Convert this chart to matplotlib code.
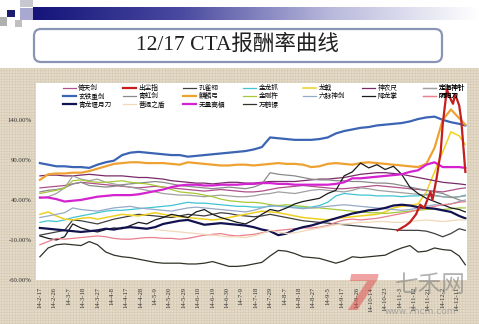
import numpy as np
import matplotlib.pyplot as plt
from matplotlib.patches import Rectangle, FancyBboxPatch
from matplotlib.colors import LinearSegmentedColormap

plt.rcParams['font.family'] = ['Noto Sans CJK SC', 'DejaVu Sans']
plt.rcParams['hatch.linewidth'] = 0.35
plt.rcParams['hatch.color'] = '#d3c7b1'

# trading-day index (0 = 14-2-17, 207 = 14-12-17), sampled every 4 days
days = list(range(0, 205, 4)) + [207]

tick_days = list(range(0, 204, 7))
tick_labels = ['14-2-17', '14-2-26', '14-3-7', '14-3-18', '14-3-27', '14-4-8',
               '14-4-17', '14-4-28', '14-5-9', '14-5-20', '14-5-29', '14-6-10',
               '14-6-19', '14-6-30', '14-7-9', '14-7-18', '14-7-29', '14-8-7',
               '14-8-18', '14-8-27', '14-9-5', '14-9-17', '14-9-26', '14-10-14',
               '14-10-23', '14-11-3', '14-11-12', '14-11-21', '14-12-2', '14-12-11']

names = ['倚天剑', '出尘指', '孔雀翎', '金龙抓', '龙戟', '神农尺', '定海神针',
         '玄铁重剑', '青虹剑', '麒麟弓', '金刚杵', '六脉神剑', '降龙掌', '阴阳刀',
         '青龙偃月刀', '菩提之盾', '无量高楣', '万鹤镖']

yitian = [55, 56, 57, 58, 60, 62, 61, 60, 59, 58, 57, 56, 55, 56, 57, 56, 55, 54, 53, 52,
          51, 52, 53, 52, 51, 50, 50, 51, 53, 55, 56, 57, 58, 57, 56, 55, 54, 54, 55, 56,
          57, 58, 57, 56, 55, 54, 53, 52, 51, 50, 52, 54, 55]
chuchen_days = [174, 178, 180, 183, 185, 187, 190, 191, 193, 195, 196, 198, 200, 201,
                202, 204, 205, 207]
chuchen = [2, 8, 12, 22, 34, 30, 50, 40, 67, 100, 135, 178, 165, 160, 172, 158, 140, 75]
kongque = [-4, -2, 0, 2, 15, 14, 12, 10, 13, 16, 18, 20, 22, 21, 20, 19, 18, 20, 22, 21,
           20, 22, 24, 23, 21, 20, 19, 20, 22, 20, 18, 16, 14, 13, 12, 11, 10, 9, 8, 7,
           6, 5, 4, 3, 2, 2, 2, 1, -2, -6, -2, 4, 2]
jinlong = [12, 14, 13, 15, 18, 20, 22, 24, 26, 27, 27, 28, 29, 30, 31, 32, 33, 35, 37, 36,
           36, 35, 34, 33, 32, 32, 31, 31, 32, 33, 32, 31, 31, 31, 33, 37, 45, 48, 47, 46,
           46, 45, 45, 45, 44, 45, 45, 47, 46, 44, 43, 44, 46]
longji = [22, 25, 20, 16, 15, 17, 18, 16, 18, 20, 22, 21, 20, 22, 24, 22, 20, 19, 18, 17,
          16, 15, 16, 18, 20, 22, 24, 26, 25, 24, 22, 20, 18, 17, 16, 15, 17, 18, 19, 20,
          21, 22, 25, 30, 32, 33, 35, 50, 75, 100, 125, 120, 109]
shennong = [70, 71, 71, 70, 70, 71, 72, 71, 70, 70, 70, 69, 68, 68, 67, 66, 64, 63, 62, 61,
            61, 60, 61, 62, 62, 61, 61, 62, 63, 63, 63, 63, 64, 65, 66, 66, 67, 68, 70, 72,
            73, 74, 74, 73, 72, 70, 68, 66, 64, 62, 61, 60, 59]
dinghai = [42, 44, 48, 55, 70, 66, 64, 66, 62, 60, 58, 56, 54, 52, 50, 48, 47, 46, 46, 45,
           44, 45, 46, 45, 44, 44, 45, 47, 48, 50, 49, 48, 50, 52, 53, 52, 51, 50, 52, 55,
           54, 52, 51, 50, 49, 48, 47, 46, 45, 44, 43, 44, 45]
xuantie = [86, 84, 82, 82, 81, 81, 80, 84, 87, 89, 96, 99, 100, 99, 98, 97, 96, 96, 94, 95,
           96, 97, 98, 99, 100, 101, 103, 106, 118, 117, 116, 115, 115, 115, 116, 118, 123, 126, 128, 130,
           131, 133, 134, 135, 136, 138, 141, 143, 144, 140, 137, 135, 133]
qinghong = [50, 52, 53, 55, 60, 62, 58, 57, 56, 57, 59, 60, 61, 62, 63, 62, 60, 58, 57, 56,
            55, 54, 55, 56, 55, 54, 56, 60, 74, 72, 71, 70, 68, 66, 65, 65, 64, 64, 63, 63,
            62, 61, 61, 60, 58, 56, 54, 52, 50, 48, 44, 40, 38]
qilin = [65, 72, 73, 73, 74, 74, 76, 79, 82, 85, 86, 87, 87, 86, 86, 86, 85, 84, 87, 86,
         85, 84, 83, 83, 84, 84, 83, 84, 85, 86, 85, 85, 84, 81, 82, 85, 86, 85, 84, 86,
         87, 86, 85, 84, 83, 82, 81, 85, 105, 140, 153, 142, 134]
jingang = [48, 50, 52, 55, 64, 65, 63, 62, 62, 63, 64, 62, 61, 60, 58, 56, 53, 50, 49, 48,
           46, 44, 41, 39, 38, 37, 37, 36, 34, 33, 34, 33, 32, 30, 30, 29, 28, 27, 26, 25,
           24, 24, 23, 24, 25, 26, 27, 28, 29, 28, 29, 30, 30]
liumai = [18, 20, 22, 24, 30, 28, 27, 26, 28, 30, 31, 32, 30, 29, 28, 27, 26, 28, 30, 31,
          30, 29, 28, 27, 26, 25, 27, 30, 33, 32, 31, 30, 29, 30, 31, 32, 33, 34, 33, 32,
          31, 30, 29, 28, 27, 28, 30, 32, 34, 33, 35, 38, 40]
xianglong = [-5, -8, -10, -6, 10, 5, 2, 0, 3, 5, 4, 8, 12, 10, 15, 18, 22, 20, 18, 25,
             28, 22, 18, 15, 12, 10, 15, 22, 28, 26, 30, 35, 38, 40, 42, 48, 52, 70, 75, 86,
             80, 84, 78, 82, 72, 56, 48, 42, 38, 34, 30, 28, 25]
yinyang = [-16, -12, -8, -9, -8, -7, -6, -5, -6, -8, -9, -9, -8, -7, -7, -8, -8, -9, -8, -6,
           -4, -3, -2, -4, -5, -4, -3, -1, 1, 2, 3, 4, 5, 5, 6, 8, 12, 15, 16, 15,
           16, 17, 19, 21, 23, 25, 28, 30, 32, 34, 35, 37, 38]
qinglong = [5, 4, 3, 2, 1, 0, 1, 2, 4, 3, 5, 6, 5, 4, 6, 10, 12, 14, 15, 12,
            9, 10, 11, 10, 9, 8, 6, 3, 1, -4, -2, 3, 6, 8, 11, 14, 17, 20, 23, 25,
            27, 28, 30, 33, 34, 33, 31, 30, 29, 27, 25, 20, 17]
puti = [np.nan] * 14 + [3, 2, 1, 0, -1, -2, -3, -4, -5, -6, -6, -7, -5, -2, 2, 0, -2, -1, 1, 3,
                        5, 7, 9, 10, 11, 12, 12, 13, 13, 12, 12, 13, 14, 15, 14, 13, 14, 15, 15]
wuliang = [43, 43, 41, 38, 39, 40, 42, 44, 45, 46, 46, 46, 47, 49, 51, 53, 56, 58, 59, 59,
           58, 58, 59, 59, 59, 60, 60, 61, 61, 60, 60, 59, 59, 59, 59, 59, 60, 62, 67, 67,
           68, 69, 70, 71, 72, 75, 77, 84, 87, 81, 81, 81, 80]
wanhe = [-31, -20, -16, -15, -16, -17, -12, -16, -25, -29, -31, -32, -34, -36, -38, -39, -39, -39, -40, -40,
         -39, -37, -40, -43, -43, -42, -40, -38, -30, -23, -24, -27, -31, -32, -33, -36, -39, -36, -31, -32,
         -31, -30, -29, -24, -20, -17, -25, -24, -20, -22, -23, -30, -41]

colors = ['#b0508a', '#c41e1e', '#404040', '#40c4d4', '#f0d020', '#7a2a68', '#a0a0a0',
          '#3c64b4', '#8a8a8a', '#eea232', '#a8c838', '#94aac8', '#1a1a1a', '#e8808e',
          '#12124e', '#f0d8b8', '#d422d0', '#2e3428']
widths = [0.9, 1.6, 0.9, 0.9, 1.1, 0.9, 0.9, 1.6, 0.9, 1.6, 0.9, 0.9, 0.9, 0.9,
          1.6, 0.9, 1.6, 0.9]
series = [(days, yitian), (chuchen_days, chuchen), (days, kongque), (days, jinlong),
          (days, longji), (days, shennong), (days, dinghai), (days, xuantie),
          (days, qinghong), (days, qilin), (days, jingang), (days, liumai),
          (days, xianglong), (days, yinyang), (days, qinglong), (days, puti),
          (days, wuliang), (days, wanhe)]

fig = plt.figure(figsize=(4.79, 3.24), dpi=100)

# slide background drawn in pixel units
bg = fig.add_axes([0, 0, 1, 1], zorder=0)
bg.set_xlim(0, 479)
bg.set_ylim(324, 0)
bg.axis('off')
bg.add_patch(Rectangle((0, 68), 479, 256, fc='#e4dac7', lw=0, hatch='++++++'))
cmap = LinearSegmentedColormap.from_list('bar', ['#14147a', '#4a4aa0', '#b8b8dc', '#ffffff'])
bg.imshow(np.linspace(0, 1, 256).reshape(1, -1), extent=[33, 479, 20, 7],
          cmap=cmap, aspect='auto')
for (x0, y0, w, h, c) in [(20, 0, 13, 7, '#c8c8d0'), (7, 10, 8, 7, '#1c1c70'),
                          (20, 8, 13, 12, '#a8a8d0'), (0, 17, 7, 9, '#b0b0b0'),
                          (15, 20, 7, 7, '#c0c0c0')]:
    bg.add_patch(Rectangle((x0, y0), w, h, color=c, lw=0))
bg.add_patch(FancyBboxPatch((34, 29), 408, 33, boxstyle='round,pad=0,rounding_size=7',
                            fc='white', ec='#8a94b4', lw=1.6))
bg.text(237, 45, '12/17 CTA报酬率曲线', ha='center', va='center', fontsize=15.5,
        color='#202020', family=['Liberation Serif', 'Noto Sans CJK SC'])
bg.set_xlim(0, 479)
bg.set_ylim(324, 0)

ax = fig.add_axes([36 / 479, 44 / 324, 431 / 479, 197 / 324], zorder=1)
ax.set_facecolor('white')
handles = []
for (x, y), c, lw in zip(series, colors, widths):
    h, = ax.plot(x, y, color=c, lw=lw)
    handles.append(h)
# red series on top
handles[1].set_zorder(3)

ax.set_xlim(-1.9, 207.8)
ax.set_ylim(-60, 186)
ax.set_yticks([-60, -10, 40, 90, 140])
ax.set_yticklabels(['-60.00%', '-10.00%', '40.00%', '90.00%', '140.00%'],
                   family='Liberation Serif', fontsize=4.8, color='#303030')
ax.set_xticks(tick_days)
ax.set_xticklabels(tick_labels, rotation=90, family='Liberation Serif',
                   fontsize=4.8, color='#303030')
ax.tick_params(length=0)
ax.tick_params(axis='x', pad=5)
ax.tick_params(axis='y', pad=3)
for s in ax.spines.values():
    s.set_visible(False)

# legend: 7 equal-width columns, 3 rows (filled row by row)
col_x = [63, 123, 183, 243, 303, 362, 423]
for j, cx in enumerate(col_x):
    idx = list(range(j, len(names), 7))
    leg = ax.legend([handles[i] for i in idx], [names[i] for i in idx],
                    loc='upper left', bbox_to_anchor=(cx / 479, 1 - 84 / 324),
                    bbox_transform=fig.transFigure, frameon=False, fontsize=4.8,
                    handlelength=2.0, handletextpad=0.3, labelspacing=0.05,
                    borderpad=0, borderaxespad=0)
    ax.add_artist(leg)

# watermark
fg = fig.add_axes([0, 0, 1, 1], zorder=3)
fg.set_xlim(0, 479)
fg.set_ylim(324, 0)
fg.axis('off')
fg.text(360, 296, '7', fontsize=36, fontweight='bold', style='italic', color='#e04848',
        alpha=0.5, ha='center', va='center', family='DejaVu Sans')
fg.text(430, 286, '七禾网', fontsize=17, color='#808080', alpha=0.6, ha='center', va='center')
fg.text(420, 311, 'www.7hcm.com', fontsize=6.5, color='#909090', alpha=0.7,
        ha='center', va='center', family='DejaVu Sans')

fig.savefig('out.png', dpi=100)
